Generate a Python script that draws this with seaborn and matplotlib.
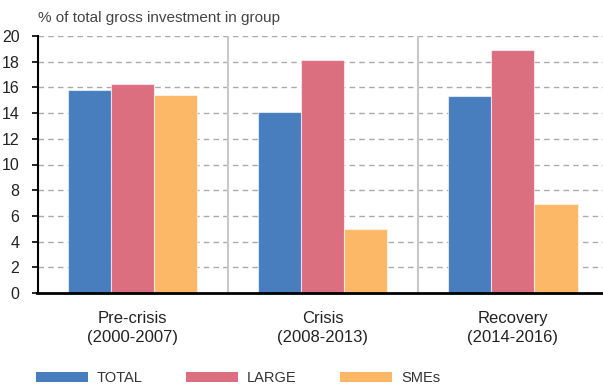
import matplotlib
matplotlib.use("Agg")
import matplotlib.pyplot as plt
import seaborn as sns
import pandas as pd
from matplotlib.patches import Patch

periods = ["Pre-crisis\n(2000-2007)", "Crisis\n(2008-2013)", "Recovery\n(2014-2016)"]
series = ["TOTAL", "LARGE", "SMEs"]
total = [15.8, 14.1, 15.3]
large = [16.3, 18.1, 18.9]
smes = [15.4, 5.0, 6.9]
colors = ["#487EBE", "#DB6E7F", "#FCB866"]
yticks = list(range(0, 21, 2))

sns.set_theme(style="white")
plt.rcParams['font.family'] = ['Liberation Sans', 'DejaVu Sans']

rows = []
for s, vals in zip(series, [total, large, smes]):
    for p, v in zip(periods, vals):
        rows.append({"period": p, "series": s, "value": v})
df = pd.DataFrame(rows)

fig = plt.figure(figsize=(6.03, 3.87), dpi=100)
ax = fig.add_axes([37.5 / 603, 1 - 293 / 387, 570.5 / 603, 257 / 387])

sns.barplot(data=df, x="period", y="value", hue="series", order=periods,
            hue_order=series, palette=colors, width=0.68, ax=ax,
            edgecolor=(1, 1, 1, 0.6), linewidth=0.8, legend=False, saturation=1)

ax.set_xlim(-0.5, 2.5)
ax.set_ylim(0, 20)
ax.set_yticks(yticks)
ax.set_yticklabels([str(t) for t in yticks], fontsize=11.5, color="#222222")
ax.set_xticks(range(len(periods)))
ax.set_xticklabels(periods, fontsize=12, color="#222222", linespacing=1.35)
ax.tick_params(axis="x", length=0, pad=13)
ax.tick_params(axis="y", length=4, width=1.2, color="black", direction="out", pad=9, left=True)
ax.set_xticks([0.5, 1.5], minor=True)
ax.tick_params(axis="x", which="minor", length=4, width=1.5, color="#555555", direction="out")
ax.set_xlabel("")
ax.set_ylabel("")

ax.grid(False)
for t in yticks[1:]:
    ax.axhline(t, color="#AAAAAA", lw=1, ls=(0, (4, 3)), zorder=0)
for xv in [0.5, 1.5]:
    ax.axvline(xv, color="#C8C8C8", lw=1.5, zorder=0)

for side in ["top", "right"]:
    ax.spines[side].set_visible(False)
ax.spines["left"].set_color("black")
ax.spines["left"].set_linewidth(1.5)
ax.spines["bottom"].set_color("black")
ax.spines["bottom"].set_linewidth(2)
ax.set_axisbelow(True)

fig.text(38 / 603, 1 - 18 / 387, "% of total gross investment in group",
         fontsize=11, color="#444444", va="center", ha="left")

handles = [Patch(facecolor=c, edgecolor="none") for c in colors]
leg = fig.legend(handles, series, loc="center left",
                 bbox_to_anchor=(36 / 603, 1 - 378 / 387), ncol=3, frameon=False,
                 handlelength=3.56, handleheight=0.62, handletextpad=0.6,
                 columnspacing=3.0, borderaxespad=0, borderpad=0,
                 prop={"size": 10.5})
for t in leg.get_texts():
    t.set_color("#333333")

fig.savefig("out.png", dpi=100)
